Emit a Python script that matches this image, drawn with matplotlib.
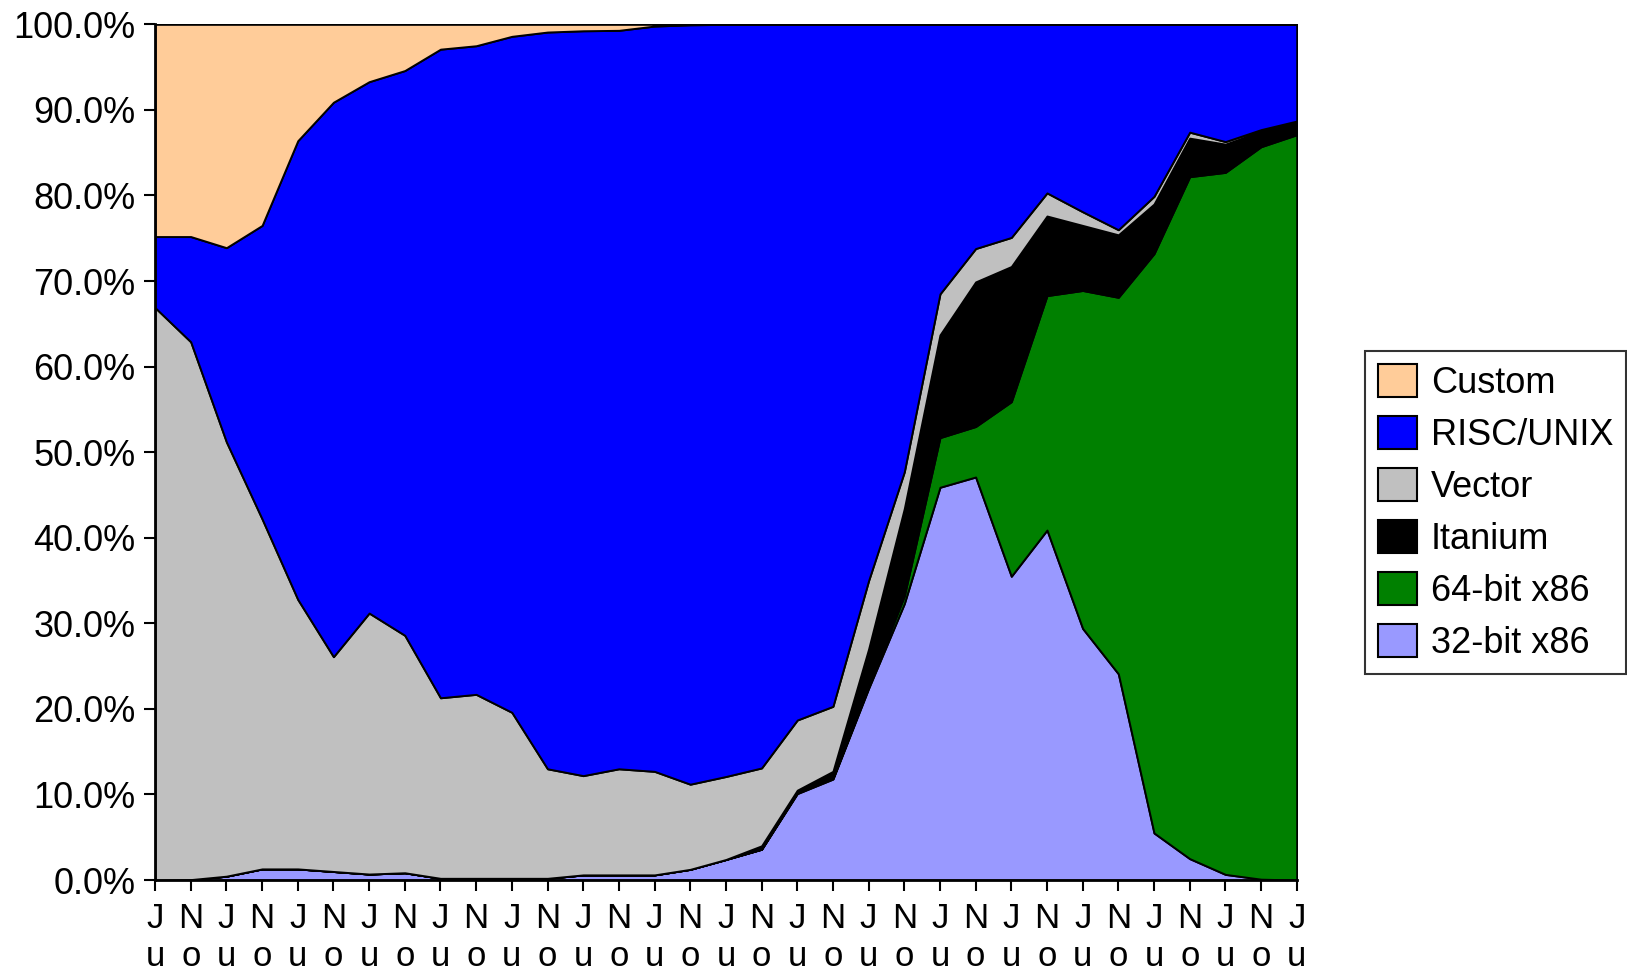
import matplotlib.pyplot as plt
import numpy as np

plt.rcParams["font.family"] = ["Liberation Sans", "DejaVu Sans"]

# TOP500 share by processor family, Jun 1993 .. Jun 2009 (percent)
months = ["Jun", "Nov"] * 16 + ["Jun"]

x86_32 = [0.0, 0.05, 0.45, 1.3, 1.3, 1.0, 0.7, 0.85, 0.2, 0.2, 0.2, 0.2, 0.6,
          0.6, 0.6, 1.25, 2.4, 3.6, 10.1, 11.8, 22.4, 32.3, 45.9, 47.1, 35.5,
          40.9, 29.4, 24.1, 5.5, 2.5, 0.66, 0.1, 0.0]
x86_64 = [0, 0, 0, 0, 0, 0, 0, 0, 0, 0, 0, 0, 0, 0, 0, 0, 0, 0.0, 0.1, 0.1,
          0.2, 0.9, 5.8, 5.9, 20.4, 27.4, 39.5, 44.0, 67.7, 79.7, 82.04, 85.6,
          87.1]
itanium = [0, 0, 0, 0, 0, 0, 0, 0, 0, 0, 0, 0, 0, 0, 0, 0, 0, 0.4, 0.3, 0.8,
           4.4, 10.2, 12.0, 16.9, 15.8, 9.3, 7.6, 7.3, 5.8, 4.5, 3.3, 1.8, 1.4]
vector = [66.9, 62.85, 50.75, 40.9, 31.5, 25.1, 30.5, 27.75, 21.1, 21.5, 19.4,
          12.8, 11.6, 12.4, 12.1, 9.95, 9.7, 9.1, 8.2, 7.6, 8.0, 4.3, 4.8, 3.9,
          3.4, 2.7, 1.6, 0.6, 0.9, 0.7, 0.3, 0.2, 0.2]
risc = [8.3, 12.3, 22.7, 34.3, 53.6, 64.8, 62.1, 66.0, 75.8, 75.8, 79.0, 86.1,
        87.05, 86.3, 87.1, 88.75, 87.9, 86.9, 81.3, 79.7, 65.0, 52.3, 31.5,
        26.2, 24.9, 19.7, 21.9, 24.0, 20.1, 12.6, 13.7, 12.3, 11.3]
custom = [24.8, 24.8, 26.1, 23.5, 13.6, 9.1, 6.7, 5.4, 2.9, 2.5, 1.4, 0.9,
          0.75, 0.7, 0.2, 0.05, 0, 0, 0, 0, 0, 0, 0, 0, 0, 0, 0, 0, 0, 0, 0,
          0, 0]

names = ["32-bit x86", "64-bit x86", "Itanium", "Vector", "RISC/UNIX", "Custom"]
colors = ["#9999FF", "#008000", "#000000", "#C0C0C0", "#0000FF", "#FFCC99"]

fig = plt.figure(figsize=(16.27, 9.66), dpi=100)
ax = fig.add_axes([0.0953, 0.089, 0.7017, 0.8858])

x = np.arange(len(months))
polys = ax.stackplot(x, x86_32, x86_64, itanium, vector, risc, custom,
                     colors=colors, labels=names,
                     edgecolor="black", linewidth=1.4)

ax.set_xlim(0, len(months) - 1)
ax.set_ylim(0, 100)
ax.set_xticks(x)
# month names written top to bottom, the lower letters run off the figure
ax.set_xticklabels(["\n".join(m) for m in months], fontsize=25,
                   linespacing=1.2)
ax.set_yticks(np.arange(0, 101, 10))
ax.set_yticklabels([f"{v:.1f}%" for v in range(0, 101, 10)], fontsize=26)

ax.tick_params(axis="both", direction="out", length=8, width=1.5,
               color="black")
ax.tick_params(axis="y", pad=6)
ax.tick_params(axis="x", pad=8)

for side in ["top", "right"]:
    ax.spines[side].set_visible(False)
for side in ["left", "bottom"]:
    ax.spines[side].set_linewidth(2)
    ax.spines[side].set_zorder(5)

handles, labels = ax.get_legend_handles_labels()
leg = fig.legend(handles[::-1], labels[::-1], loc="upper left",
                 bbox_to_anchor=(1365 / 1627, 1 - 351 / 966),
                 fontsize=26, frameon=True, fancybox=False, edgecolor="black",
                 handlelength=1.08, handleheight=1.03, handletextpad=0.38,
                 labelspacing=0.42, borderpad=0.36, borderaxespad=0)
leg.get_frame().set_linewidth(1.5)
for h in leg.legend_handles:
    h.set_edgecolor("black")
    h.set_linewidth(1.5)

fig.savefig("out.png", dpi=100)
